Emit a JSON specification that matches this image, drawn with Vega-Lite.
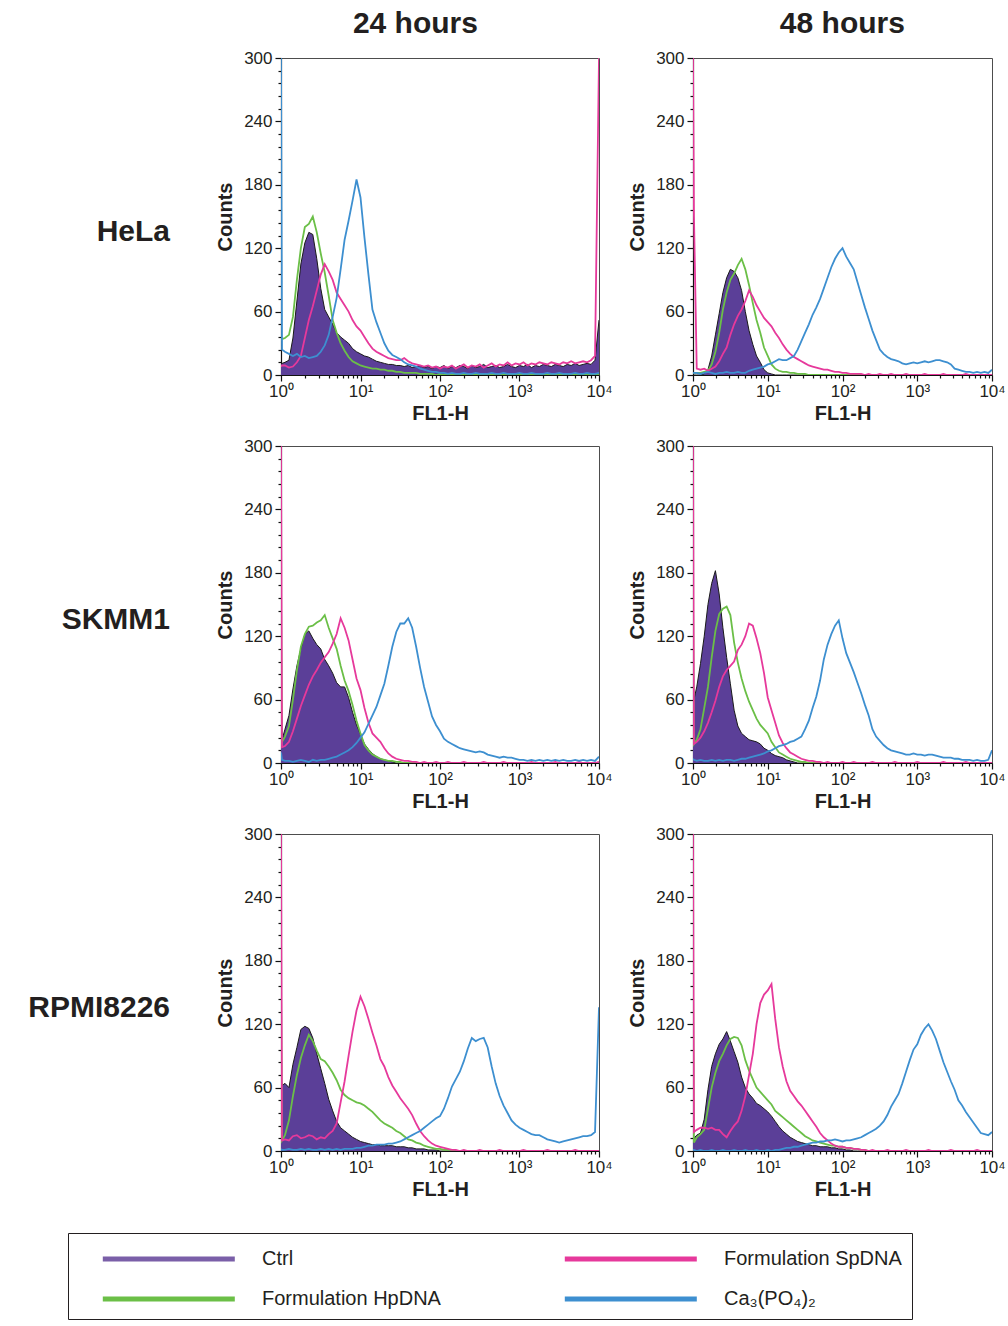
{
"$schema":"https://vega.github.io/schema/vega-lite/v6.json",
"background":"white",
"padding":{"left":28,"top":8,"right":0,"bottom":0},
"data":{"values":[
{"c":"HeLa","t":24,"x":1,"k":10,"h":33,"s":8,"p":300},
{"c":"HeLa","t":24,"x":1.03,"k":11,"h":34,"s":9,"p":24},
{"c":"HeLa","t":24,"x":1.122,"k":12,"h":35,"s":9,"p":22},
{"c":"HeLa","t":24,"x":1.259,"k":14,"h":38,"s":7,"p":20},
{"c":"HeLa","t":24,"x":1.413,"k":35,"h":55,"s":8,"p":18},
{"c":"HeLa","t":24,"x":1.585,"k":70,"h":90,"s":12,"p":20},
{"c":"HeLa","t":24,"x":1.778,"k":105,"h":120,"s":18,"p":17},
{"c":"HeLa","t":24,"x":1.995,"k":125,"h":140,"s":35,"p":18},
{"c":"HeLa","t":24,"x":2.239,"k":135,"h":143,"s":52,"p":16},
{"c":"HeLa","t":24,"x":2.512,"k":133,"h":150,"s":65,"p":17},
{"c":"HeLa","t":24,"x":2.818,"k":110,"h":135,"s":80,"p":18},
{"c":"HeLa","t":24,"x":3.162,"k":82,"h":115,"s":95,"p":22},
{"c":"HeLa","t":24,"x":3.548,"k":62,"h":97,"s":105,"p":28},
{"c":"HeLa","t":24,"x":3.981,"k":55,"h":75,"s":98,"p":38},
{"c":"HeLa","t":24,"x":4.467,"k":48,"h":52,"s":90,"p":55},
{"c":"HeLa","t":24,"x":5.012,"k":40,"h":40,"s":78,"p":73},
{"c":"HeLa","t":24,"x":5.623,"k":36,"h":30,"s":72,"p":100},
{"c":"HeLa","t":24,"x":6.31,"k":33,"h":23,"s":66,"p":128},
{"c":"HeLa","t":24,"x":7.079,"k":30,"h":17,"s":60,"p":146},
{"c":"HeLa","t":24,"x":7.943,"k":25,"h":13,"s":52,"p":165},
{"c":"HeLa","t":24,"x":8.913,"k":22,"h":11,"s":46,"p":185},
{"c":"HeLa","t":24,"x":10,"k":20,"h":9,"s":42,"p":168},
{"c":"HeLa","t":24,"x":11.22,"k":18,"h":8,"s":36,"p":130},
{"c":"HeLa","t":24,"x":12.59,"k":17,"h":7,"s":30,"p":95},
{"c":"HeLa","t":24,"x":14.13,"k":15,"h":6,"s":25,"p":62},
{"c":"HeLa","t":24,"x":15.85,"k":13,"h":6,"s":22,"p":50},
{"c":"HeLa","t":24,"x":17.78,"k":12,"h":5,"s":20,"p":40},
{"c":"HeLa","t":24,"x":19.95,"k":11,"h":5,"s":18,"p":30},
{"c":"HeLa","t":24,"x":22.39,"k":10,"h":4,"s":16,"p":23},
{"c":"HeLa","t":24,"x":25.12,"k":10,"h":4,"s":15,"p":19},
{"c":"HeLa","t":24,"x":28.18,"k":9,"h":3,"s":14,"p":17},
{"c":"HeLa","t":24,"x":31.62,"k":9,"h":3,"s":14,"p":15},
{"c":"HeLa","t":24,"x":35.48,"k":8,"h":2,"s":16,"p":12},
{"c":"HeLa","t":24,"x":39.81,"k":9,"h":2,"s":13,"p":10},
{"c":"HeLa","t":24,"x":44.67,"k":7,"h":2,"s":11,"p":9},
{"c":"HeLa","t":24,"x":50.12,"k":8,"h":2,"s":10,"p":8},
{"c":"HeLa","t":24,"x":56.23,"k":9,"h":1,"s":9,"p":6},
{"c":"HeLa","t":24,"x":63.1,"k":7,"h":1,"s":8,"p":5},
{"c":"HeLa","t":24,"x":70.79,"k":8,"h":1,"s":9,"p":4},
{"c":"HeLa","t":24,"x":79.43,"k":6,"h":1,"s":7,"p":3},
{"c":"HeLa","t":24,"x":89.13,"k":8,"h":0,"s":8,"p":3},
{"c":"HeLa","t":24,"x":100,"k":7,"h":1,"s":6,"p":2},
{"c":"HeLa","t":24,"x":112.2,"k":9,"h":0,"s":8,"p":2},
{"c":"HeLa","t":24,"x":125.9,"k":6,"h":0,"s":7,"p":1},
{"c":"HeLa","t":24,"x":141.3,"k":8,"h":1,"s":9,"p":2},
{"c":"HeLa","t":24,"x":158.5,"k":7,"h":0,"s":6,"p":1},
{"c":"HeLa","t":24,"x":177.8,"k":9,"h":0,"s":8,"p":1},
{"c":"HeLa","t":24,"x":199.5,"k":8,"h":0,"s":10,"p":2},
{"c":"HeLa","t":24,"x":223.9,"k":6,"h":1,"s":7,"p":1},
{"c":"HeLa","t":24,"x":251.2,"k":9,"h":0,"s":9,"p":1},
{"c":"HeLa","t":24,"x":281.8,"k":7,"h":0,"s":8,"p":2},
{"c":"HeLa","t":24,"x":316.2,"k":8,"h":0,"s":10,"p":1},
{"c":"HeLa","t":24,"x":354.8,"k":10,"h":0,"s":7,"p":1},
{"c":"HeLa","t":24,"x":398.1,"k":7,"h":1,"s":9,"p":1},
{"c":"HeLa","t":24,"x":446.7,"k":8,"h":0,"s":11,"p":2},
{"c":"HeLa","t":24,"x":501.2,"k":9,"h":0,"s":8,"p":1},
{"c":"HeLa","t":24,"x":562.3,"k":7,"h":0,"s":10,"p":1},
{"c":"HeLa","t":24,"x":631,"k":8,"h":0,"s":9,"p":2},
{"c":"HeLa","t":24,"x":707.9,"k":10,"h":0,"s":12,"p":1},
{"c":"HeLa","t":24,"x":794.3,"k":8,"h":1,"s":9,"p":1},
{"c":"HeLa","t":24,"x":891.3,"k":7,"h":0,"s":11,"p":1},
{"c":"HeLa","t":24,"x":1000,"k":9,"h":0,"s":10,"p":2},
{"c":"HeLa","t":24,"x":1122,"k":8,"h":0,"s":12,"p":1},
{"c":"HeLa","t":24,"x":1259,"k":10,"h":0,"s":9,"p":1},
{"c":"HeLa","t":24,"x":1413,"k":7,"h":0,"s":11,"p":2},
{"c":"HeLa","t":24,"x":1585,"k":9,"h":0,"s":10,"p":1},
{"c":"HeLa","t":24,"x":1778,"k":8,"h":1,"s":12,"p":1},
{"c":"HeLa","t":24,"x":1995,"k":10,"h":0,"s":11,"p":1},
{"c":"HeLa","t":24,"x":2239,"k":9,"h":0,"s":10,"p":2},
{"c":"HeLa","t":24,"x":2512,"k":8,"h":0,"s":12,"p":1},
{"c":"HeLa","t":24,"x":2818,"k":10,"h":0,"s":11,"p":1},
{"c":"HeLa","t":24,"x":3162,"k":9,"h":0,"s":10,"p":2},
{"c":"HeLa","t":24,"x":3548,"k":8,"h":0,"s":12,"p":1},
{"c":"HeLa","t":24,"x":3981,"k":10,"h":0,"s":11,"p":1},
{"c":"HeLa","t":24,"x":4467,"k":9,"h":1,"s":13,"p":1},
{"c":"HeLa","t":24,"x":5012,"k":11,"h":0,"s":11,"p":2},
{"c":"HeLa","t":24,"x":5623,"k":9,"h":0,"s":12,"p":1},
{"c":"HeLa","t":24,"x":6310,"k":10,"h":0,"s":13,"p":1},
{"c":"HeLa","t":24,"x":7079,"k":11,"h":0,"s":12,"p":2},
{"c":"HeLa","t":24,"x":7943,"k":10,"h":0,"s":14,"p":1},
{"c":"HeLa","t":24,"x":8913,"k":14,"h":0,"s":18,"p":1},
{"c":"HeLa","t":24,"x":10000,"k":52,"h":0,"s":300,"p":2},
{"c":"HeLa","t":48,"x":1,"k":0,"h":2,"s":300,"p":2},
{"c":"HeLa","t":48,"x":1.03,"k":0,"h":2,"s":150,"p":2},
{"c":"HeLa","t":48,"x":1.122,"k":0,"h":2,"s":6,"p":2},
{"c":"HeLa","t":48,"x":1.259,"k":0,"h":2,"s":5,"p":1},
{"c":"HeLa","t":48,"x":1.413,"k":1,"h":3,"s":6,"p":2},
{"c":"HeLa","t":48,"x":1.585,"k":5,"h":4,"s":4,"p":3},
{"c":"HeLa","t":48,"x":1.778,"k":18,"h":10,"s":6,"p":2},
{"c":"HeLa","t":48,"x":1.995,"k":38,"h":22,"s":8,"p":1},
{"c":"HeLa","t":48,"x":2.239,"k":58,"h":40,"s":13,"p":2},
{"c":"HeLa","t":48,"x":2.512,"k":78,"h":62,"s":20,"p":2},
{"c":"HeLa","t":48,"x":2.818,"k":92,"h":78,"s":26,"p":3},
{"c":"HeLa","t":48,"x":3.162,"k":100,"h":90,"s":38,"p":2},
{"c":"HeLa","t":48,"x":3.548,"k":98,"h":96,"s":48,"p":2},
{"c":"HeLa","t":48,"x":3.981,"k":92,"h":104,"s":56,"p":3},
{"c":"HeLa","t":48,"x":4.467,"k":80,"h":110,"s":62,"p":2},
{"c":"HeLa","t":48,"x":5.012,"k":60,"h":100,"s":70,"p":2},
{"c":"HeLa","t":48,"x":5.623,"k":42,"h":85,"s":80,"p":4},
{"c":"HeLa","t":48,"x":6.31,"k":29,"h":68,"s":74,"p":5},
{"c":"HeLa","t":48,"x":7.079,"k":18,"h":52,"s":66,"p":6},
{"c":"HeLa","t":48,"x":7.943,"k":12,"h":40,"s":60,"p":7},
{"c":"HeLa","t":48,"x":8.913,"k":5,"h":26,"s":54,"p":8},
{"c":"HeLa","t":48,"x":10,"k":2,"h":18,"s":50,"p":10},
{"c":"HeLa","t":48,"x":11.22,"k":1,"h":10,"s":46,"p":11},
{"c":"HeLa","t":48,"x":12.59,"k":0,"h":6,"s":40,"p":13},
{"c":"HeLa","t":48,"x":14.13,"k":0,"h":4,"s":35,"p":15},
{"c":"HeLa","t":48,"x":15.85,"k":0,"h":3,"s":29,"p":14},
{"c":"HeLa","t":48,"x":17.78,"k":0,"h":3,"s":24,"p":14},
{"c":"HeLa","t":48,"x":19.95,"k":0,"h":2,"s":20,"p":16},
{"c":"HeLa","t":48,"x":22.39,"k":0,"h":2,"s":17,"p":18},
{"c":"HeLa","t":48,"x":25.12,"k":0,"h":1,"s":15,"p":24},
{"c":"HeLa","t":48,"x":28.18,"k":0,"h":1,"s":13,"p":32},
{"c":"HeLa","t":48,"x":31.62,"k":0,"h":1,"s":11,"p":40},
{"c":"HeLa","t":48,"x":35.48,"k":0,"h":0,"s":9,"p":48},
{"c":"HeLa","t":48,"x":39.81,"k":0,"h":0,"s":8,"p":57},
{"c":"HeLa","t":48,"x":44.67,"k":0,"h":0,"s":7,"p":64},
{"c":"HeLa","t":48,"x":50.12,"k":0,"h":0,"s":6,"p":72},
{"c":"HeLa","t":48,"x":56.23,"k":0,"h":0,"s":5,"p":82},
{"c":"HeLa","t":48,"x":63.1,"k":0,"h":0,"s":5,"p":92},
{"c":"HeLa","t":48,"x":70.79,"k":0,"h":0,"s":4,"p":102},
{"c":"HeLa","t":48,"x":79.43,"k":0,"h":0,"s":3,"p":110},
{"c":"HeLa","t":48,"x":89.13,"k":0,"h":0,"s":3,"p":116},
{"c":"HeLa","t":48,"x":100,"k":0,"h":0,"s":2,"p":120},
{"c":"HeLa","t":48,"x":112.2,"k":0,"h":0,"s":2,"p":112},
{"c":"HeLa","t":48,"x":125.9,"k":0,"h":0,"s":1,"p":106},
{"c":"HeLa","t":48,"x":141.3,"k":0,"h":0,"s":1,"p":100},
{"c":"HeLa","t":48,"x":158.5,"k":0,"h":0,"s":1,"p":88},
{"c":"HeLa","t":48,"x":177.8,"k":0,"h":0,"s":1,"p":76},
{"c":"HeLa","t":48,"x":199.5,"k":0,"h":0,"s":0,"p":64},
{"c":"HeLa","t":48,"x":223.9,"k":0,"h":0,"s":1,"p":53},
{"c":"HeLa","t":48,"x":251.2,"k":0,"h":0,"s":0,"p":42},
{"c":"HeLa","t":48,"x":281.8,"k":0,"h":0,"s":0,"p":33},
{"c":"HeLa","t":48,"x":316.2,"k":0,"h":0,"s":1,"p":24},
{"c":"HeLa","t":48,"x":354.8,"k":0,"h":0,"s":0,"p":20},
{"c":"HeLa","t":48,"x":398.1,"k":0,"h":0,"s":0,"p":17},
{"c":"HeLa","t":48,"x":446.7,"k":0,"h":0,"s":1,"p":15},
{"c":"HeLa","t":48,"x":501.2,"k":0,"h":0,"s":0,"p":14},
{"c":"HeLa","t":48,"x":562.3,"k":0,"h":0,"s":0,"p":13},
{"c":"HeLa","t":48,"x":631,"k":0,"h":0,"s":0,"p":11},
{"c":"HeLa","t":48,"x":707.9,"k":0,"h":0,"s":1,"p":10},
{"c":"HeLa","t":48,"x":794.3,"k":0,"h":0,"s":0,"p":11},
{"c":"HeLa","t":48,"x":891.3,"k":0,"h":0,"s":0,"p":12},
{"c":"HeLa","t":48,"x":1000,"k":0,"h":0,"s":0,"p":11},
{"c":"HeLa","t":48,"x":1122,"k":0,"h":0,"s":0,"p":12},
{"c":"HeLa","t":48,"x":1259,"k":0,"h":0,"s":1,"p":13},
{"c":"HeLa","t":48,"x":1413,"k":0,"h":0,"s":0,"p":12},
{"c":"HeLa","t":48,"x":1585,"k":0,"h":0,"s":0,"p":13},
{"c":"HeLa","t":48,"x":1778,"k":0,"h":0,"s":0,"p":14},
{"c":"HeLa","t":48,"x":1995,"k":0,"h":0,"s":0,"p":14},
{"c":"HeLa","t":48,"x":2239,"k":0,"h":0,"s":1,"p":13},
{"c":"HeLa","t":48,"x":2512,"k":0,"h":0,"s":0,"p":12},
{"c":"HeLa","t":48,"x":2818,"k":0,"h":0,"s":0,"p":10},
{"c":"HeLa","t":48,"x":3162,"k":0,"h":0,"s":0,"p":6},
{"c":"HeLa","t":48,"x":3548,"k":0,"h":0,"s":0,"p":5},
{"c":"HeLa","t":48,"x":3981,"k":0,"h":0,"s":0,"p":4},
{"c":"HeLa","t":48,"x":4467,"k":0,"h":0,"s":1,"p":3},
{"c":"HeLa","t":48,"x":5012,"k":0,"h":0,"s":0,"p":3},
{"c":"HeLa","t":48,"x":5623,"k":0,"h":0,"s":0,"p":2},
{"c":"HeLa","t":48,"x":6310,"k":0,"h":0,"s":0,"p":3},
{"c":"HeLa","t":48,"x":7079,"k":0,"h":0,"s":0,"p":2},
{"c":"HeLa","t":48,"x":7943,"k":0,"h":0,"s":0,"p":3},
{"c":"HeLa","t":48,"x":8913,"k":0,"h":0,"s":0,"p":2},
{"c":"HeLa","t":48,"x":10000,"k":0,"h":0,"s":0,"p":5},
{"c":"SKMM1","t":24,"x":1,"k":20,"h":160,"s":300,"p":10},
{"c":"SKMM1","t":24,"x":1.03,"k":22,"h":20,"s":15,"p":3},
{"c":"SKMM1","t":24,"x":1.122,"k":32,"h":25,"s":16,"p":2},
{"c":"SKMM1","t":24,"x":1.259,"k":45,"h":35,"s":20,"p":2},
{"c":"SKMM1","t":24,"x":1.413,"k":70,"h":60,"s":30,"p":1},
{"c":"SKMM1","t":24,"x":1.585,"k":92,"h":88,"s":42,"p":2},
{"c":"SKMM1","t":24,"x":1.778,"k":108,"h":110,"s":54,"p":3},
{"c":"SKMM1","t":24,"x":1.995,"k":122,"h":122,"s":64,"p":2},
{"c":"SKMM1","t":24,"x":2.239,"k":125,"h":129,"s":74,"p":1},
{"c":"SKMM1","t":24,"x":2.512,"k":118,"h":130,"s":82,"p":3},
{"c":"SKMM1","t":24,"x":2.818,"k":112,"h":133,"s":88,"p":2},
{"c":"SKMM1","t":24,"x":3.162,"k":108,"h":135,"s":95,"p":3},
{"c":"SKMM1","t":24,"x":3.548,"k":98,"h":140,"s":100,"p":3},
{"c":"SKMM1","t":24,"x":3.981,"k":92,"h":128,"s":105,"p":4},
{"c":"SKMM1","t":24,"x":4.467,"k":85,"h":118,"s":113,"p":5},
{"c":"SKMM1","t":24,"x":5.012,"k":76,"h":108,"s":122,"p":6},
{"c":"SKMM1","t":24,"x":5.623,"k":72,"h":92,"s":137,"p":8},
{"c":"SKMM1","t":24,"x":6.31,"k":72,"h":78,"s":128,"p":10},
{"c":"SKMM1","t":24,"x":7.079,"k":62,"h":68,"s":116,"p":12},
{"c":"SKMM1","t":24,"x":7.943,"k":48,"h":55,"s":98,"p":15},
{"c":"SKMM1","t":24,"x":8.913,"k":36,"h":40,"s":80,"p":19},
{"c":"SKMM1","t":24,"x":10,"k":27,"h":28,"s":69,"p":24},
{"c":"SKMM1","t":24,"x":11.22,"k":18,"h":17,"s":52,"p":29},
{"c":"SKMM1","t":24,"x":12.59,"k":13,"h":12,"s":38,"p":37},
{"c":"SKMM1","t":24,"x":14.13,"k":9,"h":8,"s":28,"p":45},
{"c":"SKMM1","t":24,"x":15.85,"k":6,"h":6,"s":24,"p":53},
{"c":"SKMM1","t":24,"x":17.78,"k":4,"h":4,"s":20,"p":64},
{"c":"SKMM1","t":24,"x":19.95,"k":3,"h":3,"s":14,"p":75},
{"c":"SKMM1","t":24,"x":22.39,"k":2,"h":2,"s":9,"p":92},
{"c":"SKMM1","t":24,"x":25.12,"k":1,"h":2,"s":6,"p":110},
{"c":"SKMM1","t":24,"x":28.18,"k":0,"h":1,"s":4,"p":124},
{"c":"SKMM1","t":24,"x":31.62,"k":0,"h":1,"s":3,"p":132},
{"c":"SKMM1","t":24,"x":35.48,"k":0,"h":0,"s":2,"p":132},
{"c":"SKMM1","t":24,"x":39.81,"k":0,"h":0,"s":2,"p":137},
{"c":"SKMM1","t":24,"x":44.67,"k":0,"h":0,"s":1,"p":128},
{"c":"SKMM1","t":24,"x":50.12,"k":0,"h":0,"s":1,"p":110},
{"c":"SKMM1","t":24,"x":56.23,"k":0,"h":0,"s":0,"p":90},
{"c":"SKMM1","t":24,"x":63.1,"k":0,"h":0,"s":1,"p":72},
{"c":"SKMM1","t":24,"x":70.79,"k":0,"h":0,"s":0,"p":58},
{"c":"SKMM1","t":24,"x":79.43,"k":0,"h":0,"s":0,"p":44},
{"c":"SKMM1","t":24,"x":89.13,"k":0,"h":0,"s":1,"p":36},
{"c":"SKMM1","t":24,"x":100,"k":0,"h":0,"s":0,"p":30},
{"c":"SKMM1","t":24,"x":112.2,"k":0,"h":0,"s":0,"p":23},
{"c":"SKMM1","t":24,"x":125.9,"k":0,"h":0,"s":1,"p":20},
{"c":"SKMM1","t":24,"x":141.3,"k":0,"h":0,"s":0,"p":18},
{"c":"SKMM1","t":24,"x":158.5,"k":0,"h":0,"s":0,"p":16},
{"c":"SKMM1","t":24,"x":177.8,"k":0,"h":0,"s":0,"p":14},
{"c":"SKMM1","t":24,"x":199.5,"k":0,"h":0,"s":1,"p":13},
{"c":"SKMM1","t":24,"x":223.9,"k":0,"h":0,"s":0,"p":12},
{"c":"SKMM1","t":24,"x":251.2,"k":0,"h":0,"s":0,"p":11},
{"c":"SKMM1","t":24,"x":281.8,"k":0,"h":0,"s":0,"p":10},
{"c":"SKMM1","t":24,"x":316.2,"k":0,"h":0,"s":0,"p":11},
{"c":"SKMM1","t":24,"x":354.8,"k":0,"h":0,"s":1,"p":10},
{"c":"SKMM1","t":24,"x":398.1,"k":0,"h":0,"s":0,"p":8},
{"c":"SKMM1","t":24,"x":446.7,"k":0,"h":0,"s":0,"p":7},
{"c":"SKMM1","t":24,"x":501.2,"k":0,"h":0,"s":0,"p":6},
{"c":"SKMM1","t":24,"x":562.3,"k":0,"h":0,"s":0,"p":5},
{"c":"SKMM1","t":24,"x":631,"k":0,"h":0,"s":1,"p":6},
{"c":"SKMM1","t":24,"x":707.9,"k":0,"h":0,"s":0,"p":5},
{"c":"SKMM1","t":24,"x":794.3,"k":0,"h":0,"s":0,"p":5},
{"c":"SKMM1","t":24,"x":891.3,"k":0,"h":0,"s":0,"p":4},
{"c":"SKMM1","t":24,"x":1000,"k":0,"h":0,"s":0,"p":3},
{"c":"SKMM1","t":24,"x":1122,"k":0,"h":0,"s":0,"p":3},
{"c":"SKMM1","t":24,"x":1259,"k":0,"h":0,"s":0,"p":2},
{"c":"SKMM1","t":24,"x":1413,"k":0,"h":0,"s":1,"p":3},
{"c":"SKMM1","t":24,"x":1585,"k":0,"h":0,"s":0,"p":2},
{"c":"SKMM1","t":24,"x":1778,"k":0,"h":0,"s":0,"p":3},
{"c":"SKMM1","t":24,"x":1995,"k":0,"h":0,"s":0,"p":2},
{"c":"SKMM1","t":24,"x":2239,"k":0,"h":0,"s":0,"p":3},
{"c":"SKMM1","t":24,"x":2512,"k":0,"h":0,"s":0,"p":2},
{"c":"SKMM1","t":24,"x":2818,"k":0,"h":0,"s":1,"p":3},
{"c":"SKMM1","t":24,"x":3162,"k":0,"h":0,"s":0,"p":2},
{"c":"SKMM1","t":24,"x":3548,"k":0,"h":0,"s":0,"p":3},
{"c":"SKMM1","t":24,"x":3981,"k":0,"h":0,"s":0,"p":2},
{"c":"SKMM1","t":24,"x":4467,"k":0,"h":0,"s":0,"p":2},
{"c":"SKMM1","t":24,"x":5012,"k":0,"h":0,"s":0,"p":3},
{"c":"SKMM1","t":24,"x":5623,"k":0,"h":0,"s":1,"p":2},
{"c":"SKMM1","t":24,"x":6310,"k":0,"h":0,"s":0,"p":3},
{"c":"SKMM1","t":24,"x":7079,"k":0,"h":0,"s":0,"p":2},
{"c":"SKMM1","t":24,"x":7943,"k":0,"h":0,"s":0,"p":3},
{"c":"SKMM1","t":24,"x":8913,"k":0,"h":0,"s":0,"p":2},
{"c":"SKMM1","t":24,"x":10000,"k":0,"h":0,"s":1,"p":6},
{"c":"SKMM1","t":48,"x":1,"k":55,"h":160,"s":300,"p":4},
{"c":"SKMM1","t":48,"x":1.03,"k":60,"h":18,"s":18,"p":3},
{"c":"SKMM1","t":48,"x":1.122,"k":72,"h":22,"s":20,"p":2},
{"c":"SKMM1","t":48,"x":1.259,"k":94,"h":32,"s":24,"p":3},
{"c":"SKMM1","t":48,"x":1.413,"k":120,"h":52,"s":30,"p":2},
{"c":"SKMM1","t":48,"x":1.585,"k":150,"h":72,"s":38,"p":2},
{"c":"SKMM1","t":48,"x":1.778,"k":170,"h":100,"s":48,"p":3},
{"c":"SKMM1","t":48,"x":1.995,"k":182,"h":125,"s":59,"p":2},
{"c":"SKMM1","t":48,"x":2.239,"k":160,"h":141,"s":72,"p":3},
{"c":"SKMM1","t":48,"x":2.512,"k":128,"h":146,"s":82,"p":2},
{"c":"SKMM1","t":48,"x":2.818,"k":100,"h":148,"s":88,"p":3},
{"c":"SKMM1","t":48,"x":3.162,"k":75,"h":140,"s":92,"p":3},
{"c":"SKMM1","t":48,"x":3.548,"k":50,"h":114,"s":96,"p":2},
{"c":"SKMM1","t":48,"x":3.981,"k":35,"h":95,"s":107,"p":3},
{"c":"SKMM1","t":48,"x":4.467,"k":28,"h":80,"s":112,"p":4},
{"c":"SKMM1","t":48,"x":5.012,"k":25,"h":68,"s":120,"p":4},
{"c":"SKMM1","t":48,"x":5.623,"k":22,"h":58,"s":132,"p":5},
{"c":"SKMM1","t":48,"x":6.31,"k":21,"h":50,"s":130,"p":6},
{"c":"SKMM1","t":48,"x":7.079,"k":20,"h":42,"s":118,"p":7},
{"c":"SKMM1","t":48,"x":7.943,"k":18,"h":36,"s":104,"p":8},
{"c":"SKMM1","t":48,"x":8.913,"k":14,"h":32,"s":85,"p":9},
{"c":"SKMM1","t":48,"x":10,"k":12,"h":28,"s":62,"p":11},
{"c":"SKMM1","t":48,"x":11.22,"k":9,"h":20,"s":50,"p":12},
{"c":"SKMM1","t":48,"x":12.59,"k":7,"h":15,"s":38,"p":14},
{"c":"SKMM1","t":48,"x":14.13,"k":6,"h":10,"s":26,"p":16},
{"c":"SKMM1","t":48,"x":15.85,"k":5,"h":8,"s":19,"p":17},
{"c":"SKMM1","t":48,"x":17.78,"k":3,"h":6,"s":14,"p":18},
{"c":"SKMM1","t":48,"x":19.95,"k":2,"h":4,"s":10,"p":20},
{"c":"SKMM1","t":48,"x":22.39,"k":1,"h":3,"s":8,"p":21},
{"c":"SKMM1","t":48,"x":25.12,"k":0,"h":2,"s":6,"p":23},
{"c":"SKMM1","t":48,"x":28.18,"k":0,"h":1,"s":4,"p":25},
{"c":"SKMM1","t":48,"x":31.62,"k":0,"h":1,"s":3,"p":32},
{"c":"SKMM1","t":48,"x":35.48,"k":0,"h":0,"s":2,"p":40},
{"c":"SKMM1","t":48,"x":39.81,"k":0,"h":0,"s":2,"p":52},
{"c":"SKMM1","t":48,"x":44.67,"k":0,"h":0,"s":1,"p":63},
{"c":"SKMM1","t":48,"x":50.12,"k":0,"h":0,"s":1,"p":78},
{"c":"SKMM1","t":48,"x":56.23,"k":0,"h":0,"s":0,"p":98},
{"c":"SKMM1","t":48,"x":63.1,"k":0,"h":0,"s":1,"p":112},
{"c":"SKMM1","t":48,"x":70.79,"k":0,"h":0,"s":0,"p":122},
{"c":"SKMM1","t":48,"x":79.43,"k":0,"h":0,"s":0,"p":130},
{"c":"SKMM1","t":48,"x":89.13,"k":0,"h":0,"s":0,"p":135},
{"c":"SKMM1","t":48,"x":100,"k":0,"h":0,"s":1,"p":118},
{"c":"SKMM1","t":48,"x":112.2,"k":0,"h":0,"s":0,"p":104},
{"c":"SKMM1","t":48,"x":125.9,"k":0,"h":0,"s":0,"p":95},
{"c":"SKMM1","t":48,"x":141.3,"k":0,"h":0,"s":1,"p":86},
{"c":"SKMM1","t":48,"x":158.5,"k":0,"h":0,"s":0,"p":76},
{"c":"SKMM1","t":48,"x":177.8,"k":0,"h":0,"s":0,"p":66},
{"c":"SKMM1","t":48,"x":199.5,"k":0,"h":0,"s":0,"p":55},
{"c":"SKMM1","t":48,"x":223.9,"k":0,"h":0,"s":0,"p":45},
{"c":"SKMM1","t":48,"x":251.2,"k":0,"h":0,"s":1,"p":32},
{"c":"SKMM1","t":48,"x":281.8,"k":0,"h":0,"s":0,"p":25},
{"c":"SKMM1","t":48,"x":316.2,"k":0,"h":0,"s":0,"p":21},
{"c":"SKMM1","t":48,"x":354.8,"k":0,"h":0,"s":0,"p":17},
{"c":"SKMM1","t":48,"x":398.1,"k":0,"h":0,"s":0,"p":14},
{"c":"SKMM1","t":48,"x":446.7,"k":0,"h":0,"s":0,"p":12},
{"c":"SKMM1","t":48,"x":501.2,"k":0,"h":0,"s":1,"p":11},
{"c":"SKMM1","t":48,"x":562.3,"k":0,"h":0,"s":0,"p":10},
{"c":"SKMM1","t":48,"x":631,"k":0,"h":0,"s":0,"p":9},
{"c":"SKMM1","t":48,"x":707.9,"k":0,"h":0,"s":0,"p":8},
{"c":"SKMM1","t":48,"x":794.3,"k":0,"h":0,"s":0,"p":8},
{"c":"SKMM1","t":48,"x":891.3,"k":0,"h":0,"s":0,"p":9},
{"c":"SKMM1","t":48,"x":1000,"k":0,"h":0,"s":1,"p":8},
{"c":"SKMM1","t":48,"x":1122,"k":0,"h":0,"s":0,"p":8},
{"c":"SKMM1","t":48,"x":1259,"k":0,"h":0,"s":0,"p":7},
{"c":"SKMM1","t":48,"x":1413,"k":0,"h":0,"s":0,"p":8},
{"c":"SKMM1","t":48,"x":1585,"k":0,"h":0,"s":0,"p":8},
{"c":"SKMM1","t":48,"x":1778,"k":0,"h":0,"s":0,"p":7},
{"c":"SKMM1","t":48,"x":1995,"k":0,"h":0,"s":0,"p":6},
{"c":"SKMM1","t":48,"x":2239,"k":0,"h":0,"s":1,"p":5},
{"c":"SKMM1","t":48,"x":2512,"k":0,"h":0,"s":0,"p":5},
{"c":"SKMM1","t":48,"x":2818,"k":0,"h":0,"s":0,"p":5},
{"c":"SKMM1","t":48,"x":3162,"k":0,"h":0,"s":0,"p":4},
{"c":"SKMM1","t":48,"x":3548,"k":0,"h":0,"s":0,"p":4},
{"c":"SKMM1","t":48,"x":3981,"k":0,"h":0,"s":0,"p":3},
{"c":"SKMM1","t":48,"x":4467,"k":0,"h":0,"s":1,"p":3},
{"c":"SKMM1","t":48,"x":5012,"k":0,"h":0,"s":0,"p":3},
{"c":"SKMM1","t":48,"x":5623,"k":0,"h":0,"s":0,"p":2},
{"c":"SKMM1","t":48,"x":6310,"k":0,"h":0,"s":0,"p":3},
{"c":"SKMM1","t":48,"x":7079,"k":0,"h":0,"s":0,"p":2},
{"c":"SKMM1","t":48,"x":7943,"k":0,"h":0,"s":0,"p":2},
{"c":"SKMM1","t":48,"x":8913,"k":0,"h":0,"s":0,"p":3},
{"c":"SKMM1","t":48,"x":10000,"k":0,"h":0,"s":0,"p":12},
{"c":"RPMI8226","t":24,"x":1,"k":70,"h":157,"s":300,"p":2},
{"c":"RPMI8226","t":24,"x":1.03,"k":62,"h":10,"s":10,"p":1},
{"c":"RPMI8226","t":24,"x":1.122,"k":64,"h":15,"s":11,"p":1},
{"c":"RPMI8226","t":24,"x":1.259,"k":60,"h":29,"s":10,"p":2},
{"c":"RPMI8226","t":24,"x":1.413,"k":82,"h":52,"s":14,"p":1},
{"c":"RPMI8226","t":24,"x":1.585,"k":98,"h":72,"s":15,"p":1},
{"c":"RPMI8226","t":24,"x":1.778,"k":115,"h":88,"s":12,"p":2},
{"c":"RPMI8226","t":24,"x":1.995,"k":118,"h":100,"s":13,"p":1},
{"c":"RPMI8226","t":24,"x":2.239,"k":116,"h":110,"s":15,"p":2},
{"c":"RPMI8226","t":24,"x":2.512,"k":107,"h":104,"s":14,"p":1},
{"c":"RPMI8226","t":24,"x":2.818,"k":92,"h":95,"s":11,"p":1},
{"c":"RPMI8226","t":24,"x":3.162,"k":78,"h":87,"s":13,"p":2},
{"c":"RPMI8226","t":24,"x":3.548,"k":64,"h":85,"s":12,"p":1},
{"c":"RPMI8226","t":24,"x":3.981,"k":49,"h":80,"s":16,"p":2},
{"c":"RPMI8226","t":24,"x":4.467,"k":38,"h":74,"s":19,"p":1},
{"c":"RPMI8226","t":24,"x":5.012,"k":28,"h":67,"s":26,"p":2},
{"c":"RPMI8226","t":24,"x":5.623,"k":22,"h":58,"s":46,"p":1},
{"c":"RPMI8226","t":24,"x":6.31,"k":19,"h":53,"s":66,"p":2},
{"c":"RPMI8226","t":24,"x":7.079,"k":16,"h":50,"s":90,"p":2},
{"c":"RPMI8226","t":24,"x":7.943,"k":13,"h":48,"s":113,"p":2},
{"c":"RPMI8226","t":24,"x":8.913,"k":11,"h":46,"s":133,"p":3},
{"c":"RPMI8226","t":24,"x":10,"k":9,"h":45,"s":146,"p":3},
{"c":"RPMI8226","t":24,"x":11.22,"k":8,"h":43,"s":137,"p":4},
{"c":"RPMI8226","t":24,"x":12.59,"k":7,"h":40,"s":125,"p":5},
{"c":"RPMI8226","t":24,"x":14.13,"k":6,"h":37,"s":112,"p":5},
{"c":"RPMI8226","t":24,"x":15.85,"k":6,"h":33,"s":100,"p":6},
{"c":"RPMI8226","t":24,"x":17.78,"k":5,"h":29,"s":87,"p":6},
{"c":"RPMI8226","t":24,"x":19.95,"k":5,"h":26,"s":80,"p":6},
{"c":"RPMI8226","t":24,"x":22.39,"k":5,"h":24,"s":70,"p":7},
{"c":"RPMI8226","t":24,"x":25.12,"k":5,"h":22,"s":62,"p":7},
{"c":"RPMI8226","t":24,"x":28.18,"k":4,"h":19,"s":56,"p":8},
{"c":"RPMI8226","t":24,"x":31.62,"k":4,"h":17,"s":50,"p":9},
{"c":"RPMI8226","t":24,"x":35.48,"k":4,"h":14,"s":45,"p":11},
{"c":"RPMI8226","t":24,"x":39.81,"k":3,"h":11,"s":40,"p":13},
{"c":"RPMI8226","t":24,"x":44.67,"k":3,"h":10,"s":34,"p":15},
{"c":"RPMI8226","t":24,"x":50.12,"k":2,"h":8,"s":26,"p":17},
{"c":"RPMI8226","t":24,"x":56.23,"k":2,"h":7,"s":19,"p":19},
{"c":"RPMI8226","t":24,"x":63.1,"k":2,"h":5,"s":14,"p":22},
{"c":"RPMI8226","t":24,"x":70.79,"k":1,"h":4,"s":10,"p":25},
{"c":"RPMI8226","t":24,"x":79.43,"k":1,"h":3,"s":7,"p":28},
{"c":"RPMI8226","t":24,"x":89.13,"k":1,"h":2,"s":5,"p":31},
{"c":"RPMI8226","t":24,"x":100,"k":0,"h":2,"s":4,"p":33},
{"c":"RPMI8226","t":24,"x":112.2,"k":0,"h":1,"s":3,"p":40},
{"c":"RPMI8226","t":24,"x":125.9,"k":0,"h":1,"s":2,"p":50},
{"c":"RPMI8226","t":24,"x":141.3,"k":0,"h":1,"s":1,"p":61},
{"c":"RPMI8226","t":24,"x":158.5,"k":0,"h":0,"s":1,"p":68},
{"c":"RPMI8226","t":24,"x":177.8,"k":0,"h":0,"s":0,"p":75},
{"c":"RPMI8226","t":24,"x":199.5,"k":0,"h":0,"s":1,"p":85},
{"c":"RPMI8226","t":24,"x":223.9,"k":0,"h":0,"s":0,"p":97},
{"c":"RPMI8226","t":24,"x":251.2,"k":0,"h":0,"s":0,"p":107},
{"c":"RPMI8226","t":24,"x":281.8,"k":0,"h":0,"s":0,"p":104},
{"c":"RPMI8226","t":24,"x":316.2,"k":0,"h":0,"s":1,"p":106},
{"c":"RPMI8226","t":24,"x":354.8,"k":0,"h":0,"s":0,"p":107},
{"c":"RPMI8226","t":24,"x":398.1,"k":0,"h":0,"s":0,"p":98},
{"c":"RPMI8226","t":24,"x":446.7,"k":0,"h":0,"s":0,"p":80},
{"c":"RPMI8226","t":24,"x":501.2,"k":0,"h":0,"s":0,"p":64},
{"c":"RPMI8226","t":24,"x":562.3,"k":0,"h":0,"s":1,"p":52},
{"c":"RPMI8226","t":24,"x":631,"k":0,"h":0,"s":0,"p":43},
{"c":"RPMI8226","t":24,"x":707.9,"k":0,"h":0,"s":0,"p":36},
{"c":"RPMI8226","t":24,"x":794.3,"k":0,"h":0,"s":0,"p":29},
{"c":"RPMI8226","t":24,"x":891.3,"k":0,"h":0,"s":0,"p":25},
{"c":"RPMI8226","t":24,"x":1000,"k":0,"h":0,"s":0,"p":22},
{"c":"RPMI8226","t":24,"x":1122,"k":0,"h":0,"s":1,"p":20},
{"c":"RPMI8226","t":24,"x":1259,"k":0,"h":0,"s":0,"p":18},
{"c":"RPMI8226","t":24,"x":1413,"k":0,"h":0,"s":0,"p":16},
{"c":"RPMI8226","t":24,"x":1585,"k":0,"h":0,"s":0,"p":15},
{"c":"RPMI8226","t":24,"x":1778,"k":0,"h":0,"s":0,"p":15},
{"c":"RPMI8226","t":24,"x":1995,"k":0,"h":0,"s":0,"p":13},
{"c":"RPMI8226","t":24,"x":2239,"k":0,"h":0,"s":1,"p":11},
{"c":"RPMI8226","t":24,"x":2512,"k":0,"h":0,"s":0,"p":10},
{"c":"RPMI8226","t":24,"x":2818,"k":0,"h":0,"s":0,"p":9},
{"c":"RPMI8226","t":24,"x":3162,"k":0,"h":0,"s":0,"p":8},
{"c":"RPMI8226","t":24,"x":3548,"k":0,"h":0,"s":0,"p":9},
{"c":"RPMI8226","t":24,"x":3981,"k":0,"h":0,"s":0,"p":10},
{"c":"RPMI8226","t":24,"x":4467,"k":0,"h":0,"s":0,"p":11},
{"c":"RPMI8226","t":24,"x":5012,"k":0,"h":0,"s":1,"p":12},
{"c":"RPMI8226","t":24,"x":5623,"k":0,"h":0,"s":0,"p":13},
{"c":"RPMI8226","t":24,"x":6310,"k":0,"h":0,"s":0,"p":14},
{"c":"RPMI8226","t":24,"x":7079,"k":0,"h":0,"s":0,"p":14},
{"c":"RPMI8226","t":24,"x":7943,"k":0,"h":0,"s":0,"p":15},
{"c":"RPMI8226","t":24,"x":8913,"k":0,"h":0,"s":0,"p":18},
{"c":"RPMI8226","t":24,"x":10000,"k":0,"h":0,"s":0,"p":136},
{"c":"RPMI8226","t":48,"x":1,"k":10,"h":160,"s":300,"p":1},
{"c":"RPMI8226","t":48,"x":1.03,"k":12,"h":8,"s":18,"p":1},
{"c":"RPMI8226","t":48,"x":1.122,"k":15,"h":13,"s":20,"p":0},
{"c":"RPMI8226","t":48,"x":1.259,"k":17,"h":16,"s":22,"p":1},
{"c":"RPMI8226","t":48,"x":1.413,"k":30,"h":20,"s":22,"p":0},
{"c":"RPMI8226","t":48,"x":1.585,"k":58,"h":40,"s":21,"p":0},
{"c":"RPMI8226","t":48,"x":1.778,"k":80,"h":60,"s":22,"p":1},
{"c":"RPMI8226","t":48,"x":1.995,"k":92,"h":74,"s":20,"p":0},
{"c":"RPMI8226","t":48,"x":2.239,"k":101,"h":85,"s":20,"p":0},
{"c":"RPMI8226","t":48,"x":2.512,"k":106,"h":92,"s":16,"p":1},
{"c":"RPMI8226","t":48,"x":2.818,"k":113,"h":100,"s":13,"p":0},
{"c":"RPMI8226","t":48,"x":3.162,"k":104,"h":106,"s":19,"p":0},
{"c":"RPMI8226","t":48,"x":3.548,"k":94,"h":108,"s":24,"p":1},
{"c":"RPMI8226","t":48,"x":3.981,"k":84,"h":107,"s":28,"p":0},
{"c":"RPMI8226","t":48,"x":4.467,"k":70,"h":100,"s":38,"p":0},
{"c":"RPMI8226","t":48,"x":5.012,"k":60,"h":86,"s":52,"p":1},
{"c":"RPMI8226","t":48,"x":5.623,"k":54,"h":76,"s":72,"p":0},
{"c":"RPMI8226","t":48,"x":6.31,"k":50,"h":68,"s":92,"p":0},
{"c":"RPMI8226","t":48,"x":7.079,"k":45,"h":60,"s":120,"p":1},
{"c":"RPMI8226","t":48,"x":7.943,"k":43,"h":56,"s":140,"p":0},
{"c":"RPMI8226","t":48,"x":8.913,"k":40,"h":52,"s":148,"p":0},
{"c":"RPMI8226","t":48,"x":10,"k":37,"h":48,"s":152,"p":1},
{"c":"RPMI8226","t":48,"x":11.22,"k":33,"h":44,"s":158,"p":0},
{"c":"RPMI8226","t":48,"x":12.59,"k":28,"h":38,"s":125,"p":1},
{"c":"RPMI8226","t":48,"x":14.13,"k":23,"h":35,"s":98,"p":1},
{"c":"RPMI8226","t":48,"x":15.85,"k":19,"h":32,"s":80,"p":2},
{"c":"RPMI8226","t":48,"x":17.78,"k":16,"h":29,"s":66,"p":3},
{"c":"RPMI8226","t":48,"x":19.95,"k":13,"h":26,"s":57,"p":3},
{"c":"RPMI8226","t":48,"x":22.39,"k":11,"h":23,"s":52,"p":4},
{"c":"RPMI8226","t":48,"x":25.12,"k":9,"h":20,"s":47,"p":4},
{"c":"RPMI8226","t":48,"x":28.18,"k":8,"h":17,"s":43,"p":5},
{"c":"RPMI8226","t":48,"x":31.62,"k":7,"h":14,"s":38,"p":6},
{"c":"RPMI8226","t":48,"x":35.48,"k":6,"h":12,"s":33,"p":7},
{"c":"RPMI8226","t":48,"x":39.81,"k":5,"h":10,"s":28,"p":8},
{"c":"RPMI8226","t":48,"x":44.67,"k":5,"h":9,"s":23,"p":8},
{"c":"RPMI8226","t":48,"x":50.12,"k":4,"h":8,"s":17,"p":9},
{"c":"RPMI8226","t":48,"x":56.23,"k":4,"h":7,"s":13,"p":9},
{"c":"RPMI8226","t":48,"x":63.1,"k":4,"h":6,"s":10,"p":10},
{"c":"RPMI8226","t":48,"x":70.79,"k":3,"h":5,"s":7,"p":10},
{"c":"RPMI8226","t":48,"x":79.43,"k":3,"h":5,"s":5,"p":11},
{"c":"RPMI8226","t":48,"x":89.13,"k":2,"h":4,"s":4,"p":10},
{"c":"RPMI8226","t":48,"x":100,"k":2,"h":4,"s":4,"p":9},
{"c":"RPMI8226","t":48,"x":112.2,"k":1,"h":3,"s":3,"p":10},
{"c":"RPMI8226","t":48,"x":125.9,"k":1,"h":3,"s":3,"p":10},
{"c":"RPMI8226","t":48,"x":141.3,"k":0,"h":2,"s":2,"p":11},
{"c":"RPMI8226","t":48,"x":158.5,"k":0,"h":2,"s":2,"p":12},
{"c":"RPMI8226","t":48,"x":177.8,"k":0,"h":1,"s":1,"p":13},
{"c":"RPMI8226","t":48,"x":199.5,"k":0,"h":1,"s":1,"p":15},
{"c":"RPMI8226","t":48,"x":223.9,"k":0,"h":0,"s":0,"p":17},
{"c":"RPMI8226","t":48,"x":251.2,"k":0,"h":0,"s":1,"p":19},
{"c":"RPMI8226","t":48,"x":281.8,"k":0,"h":0,"s":0,"p":21},
{"c":"RPMI8226","t":48,"x":316.2,"k":0,"h":0,"s":0,"p":24},
{"c":"RPMI8226","t":48,"x":354.8,"k":0,"h":0,"s":0,"p":28},
{"c":"RPMI8226","t":48,"x":398.1,"k":0,"h":0,"s":1,"p":34},
{"c":"RPMI8226","t":48,"x":446.7,"k":0,"h":0,"s":0,"p":42},
{"c":"RPMI8226","t":48,"x":501.2,"k":0,"h":0,"s":0,"p":48},
{"c":"RPMI8226","t":48,"x":562.3,"k":0,"h":0,"s":0,"p":54},
{"c":"RPMI8226","t":48,"x":631,"k":0,"h":0,"s":0,"p":64},
{"c":"RPMI8226","t":48,"x":707.9,"k":0,"h":0,"s":1,"p":75},
{"c":"RPMI8226","t":48,"x":794.3,"k":0,"h":0,"s":0,"p":86},
{"c":"RPMI8226","t":48,"x":891.3,"k":0,"h":0,"s":0,"p":96},
{"c":"RPMI8226","t":48,"x":1000,"k":0,"h":0,"s":0,"p":101},
{"c":"RPMI8226","t":48,"x":1122,"k":0,"h":0,"s":0,"p":110},
{"c":"RPMI8226","t":48,"x":1259,"k":0,"h":0,"s":0,"p":116},
{"c":"RPMI8226","t":48,"x":1413,"k":0,"h":0,"s":1,"p":120},
{"c":"RPMI8226","t":48,"x":1585,"k":0,"h":0,"s":0,"p":114},
{"c":"RPMI8226","t":48,"x":1778,"k":0,"h":0,"s":0,"p":106},
{"c":"RPMI8226","t":48,"x":1995,"k":0,"h":0,"s":0,"p":95},
{"c":"RPMI8226","t":48,"x":2239,"k":0,"h":0,"s":0,"p":84},
{"c":"RPMI8226","t":48,"x":2512,"k":0,"h":0,"s":0,"p":75},
{"c":"RPMI8226","t":48,"x":2818,"k":0,"h":0,"s":1,"p":66},
{"c":"RPMI8226","t":48,"x":3162,"k":0,"h":0,"s":0,"p":58},
{"c":"RPMI8226","t":48,"x":3548,"k":0,"h":0,"s":0,"p":48},
{"c":"RPMI8226","t":48,"x":3981,"k":0,"h":0,"s":0,"p":43},
{"c":"RPMI8226","t":48,"x":4467,"k":0,"h":0,"s":0,"p":37},
{"c":"RPMI8226","t":48,"x":5012,"k":0,"h":0,"s":0,"p":32},
{"c":"RPMI8226","t":48,"x":5623,"k":0,"h":0,"s":0,"p":27},
{"c":"RPMI8226","t":48,"x":6310,"k":0,"h":0,"s":1,"p":22},
{"c":"RPMI8226","t":48,"x":7079,"k":0,"h":0,"s":0,"p":17},
{"c":"RPMI8226","t":48,"x":7943,"k":0,"h":0,"s":0,"p":16},
{"c":"RPMI8226","t":48,"x":8913,"k":0,"h":0,"s":0,"p":15},
{"c":"RPMI8226","t":48,"x":10000,"k":0,"h":0,"s":0,"p":18}
]},
"hconcat":[
{
"title":{"text":"24 hours","dx":95},
"transform":[{"filter":"datum.t==24"},{"fold":["k","h","s","p"],"as":["g","y"]}],
"facet":{"row":{"field":"c","type":"nominal","sort":["HeLa","SKMM1","RPMI8226"],"title":null,"header":{"labelAngle":0,"labelOrient":"left","labelAlign":"left","labelBaseline":"top","labelFontSize":30,"labelFontWeight":"bold","labelColor":"#231f20","labelPadding":45}}},
"spacing":12,
"spec":{
"width":318,"height":317,
"encoding":{
"x":{"field":"x","type":"quantitative","scale":{"type":"log","domain":[1,10000]},"axis":{"title":"FL1-H","values":[1,2,3,4,5,6,7,8,9,10,20,30,40,50,60,70,80,90,100,200,300,400,500,600,700,800,900,1000,2000,3000,4000,5000,6000,7000,8000,9000,10000],"labelExpr":"datum.value==1?'10⁰':datum.value==10?'10¹':datum.value==100?'10²':datum.value==1000?'10³':datum.value==10000?'10⁴':''","tickSize":{"condition":{"test":"datum.value==1||datum.value==10||datum.value==100||datum.value==1000||datum.value==10000","value":6},"value":3},"labelPadding":2,"titlePadding":4}},
"y":{"field":"y","type":"quantitative","scale":{"domain":[0,300]},"axis":{"title":"Counts","values":[0,12,24,36,48,60,72,84,96,108,120,132,144,156,168,180,192,204,216,228,240,252,264,276,288,300],"labelExpr":"datum.value%60==0?datum.label:''","tickSize":{"condition":{"test":"datum.value%60==0","value":6},"value":3},"titlePadding":8,"labelPadding":3}}
},
"layer":[
{"transform":[{"filter":"datum.g=='k'"}],"mark":{"type":"area","color":"#5b3f98","opacity":1,"clip":true}},
{"transform":[{"filter":"datum.g=='k'"}],"mark":{"type":"line","color":"#1a1a1a","strokeWidth":1,"clip":true}},
{"transform":[{"filter":"datum.g!='k'"}],"mark":{"type":"line","strokeWidth":1.8,"clip":true},"encoding":{"color":{"field":"g","type":"nominal","scale":{"domain":["k","h","s","p"],"range":["#7a5fa8","#6bbf47","#e6399b","#3d8fd0"]},"legend":{"title":null,"labelExpr":"datum.value=='k'?'Ctrl':datum.value=='s'?'Formulation SpDNA':datum.value=='h'?'Formulation HpDNA':'Ca₃(PO₄)₂'"}}}}
]
},
"resolve":{"axis":{"x":"independent","y":"independent"}}
},
{
"title":{"text":"48 hours","dx":26},
"transform":[{"filter":"datum.t==48"},{"fold":["k","h","s","p"],"as":["g","y"]}],
"facet":{"row":{"field":"c","type":"nominal","sort":["HeLa","SKMM1","RPMI8226"],"title":null,"header":{"labels":false}}},
"spacing":12,
"spec":{
"width":299,"height":317,
"encoding":{
"x":{"field":"x","type":"quantitative","scale":{"type":"log","domain":[1,10000]},"axis":{"title":"FL1-H","values":[1,2,3,4,5,6,7,8,9,10,20,30,40,50,60,70,80,90,100,200,300,400,500,600,700,800,900,1000,2000,3000,4000,5000,6000,7000,8000,9000,10000],"labelExpr":"datum.value==1?'10⁰':datum.value==10?'10¹':datum.value==100?'10²':datum.value==1000?'10³':datum.value==10000?'10⁴':''","tickSize":{"condition":{"test":"datum.value==1||datum.value==10||datum.value==100||datum.value==1000||datum.value==10000","value":6},"value":3},"labelPadding":2,"titlePadding":4}},
"y":{"field":"y","type":"quantitative","scale":{"domain":[0,300]},"axis":{"title":"Counts","values":[0,12,24,36,48,60,72,84,96,108,120,132,144,156,168,180,192,204,216,228,240,252,264,276,288,300],"labelExpr":"datum.value%60==0?datum.label:''","tickSize":{"condition":{"test":"datum.value%60==0","value":6},"value":3},"titlePadding":8,"labelPadding":3}}
},
"layer":[
{"transform":[{"filter":"datum.g=='k'"}],"mark":{"type":"area","color":"#5b3f98","opacity":1,"clip":true}},
{"transform":[{"filter":"datum.g=='k'"}],"mark":{"type":"line","color":"#1a1a1a","strokeWidth":1,"clip":true}},
{"transform":[{"filter":"datum.g!='k'"}],"mark":{"type":"line","strokeWidth":1.8,"clip":true},"encoding":{"color":{"field":"g","type":"nominal","scale":{"domain":["k","h","s","p"],"range":["#7a5fa8","#6bbf47","#e6399b","#3d8fd0"]},"legend":{"title":null,"labelExpr":"datum.value=='k'?'Ctrl':datum.value=='s'?'Formulation SpDNA':datum.value=='h'?'Formulation HpDNA':'Ca₃(PO₄)₂'"}}}}
]
},
"resolve":{"axis":{"x":"independent","y":"independent"}}
}
],
"spacing":14,
"config":{
"font":"Liberation Sans",
"view":{"stroke":"#4d4d4d","strokeWidth":1},
"axis":{"grid":false,"domainColor":"#111111","domainWidth":1.2,"tickColor":"#111111","tickWidth":1.2,"labelColor":"#231f20","labelFontSize":17,"titleFontSize":20,"titleFontWeight":"bold","titleColor":"#231f20","labelFlush":false,"labelOverlap":false},
"title":{"fontSize":30,"fontWeight":"bold","color":"#231f20","anchor":"middle","offset":10},
"legend":{"orient":"none","legendX":-213,"legendY":1175,"columns":2,"symbolType":"M-1,0H9","symbolSize":697,"symbolStrokeWidth":5,"labelFontSize":20,"labelColor":"#231f20","labelOffset":130,"columnPadding":99,"rowPadding":14,"padding":10,"symbolOffset":22,"strokeColor":"#231f20","labelLimit":400}
}
}
